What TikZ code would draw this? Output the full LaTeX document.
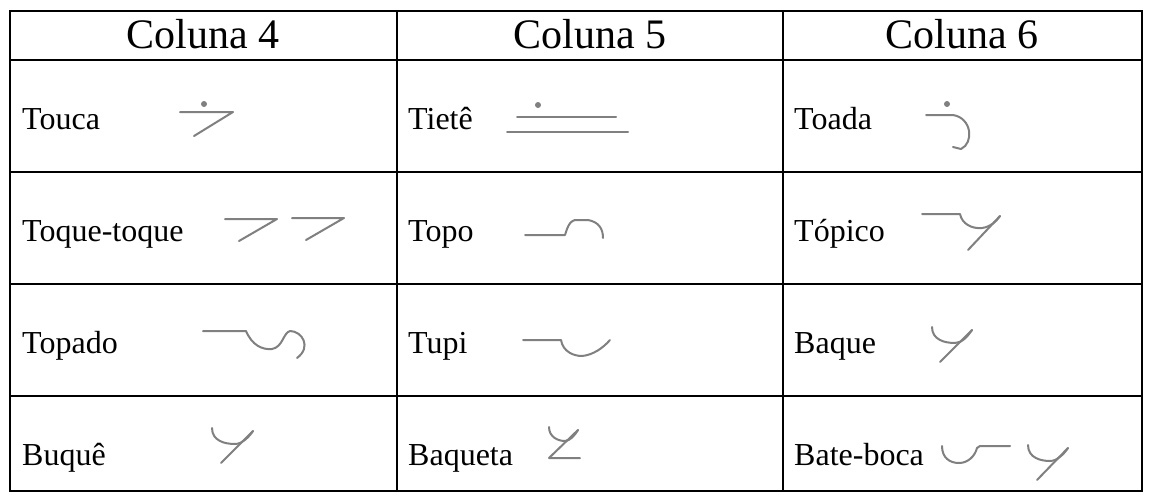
\documentclass[tikz,border=0pt]{standalone}
\usepackage{fontspec}
\setmainfont{Liberation Serif}
\begin{document}
\begin{tikzpicture}[x=1pt,y=-1pt,
  grid/.style={line width=1.8pt,black},
  sym/.style={line width=2pt,color=symgray,line cap=round,line join=round},
  symdot/.style={fill=symgray,draw=none},
  head/.style={font=\fontsize{42}{48}\selectfont,anchor=base,inner sep=0pt},
  cell/.style={font=\fontsize{32}{38}\selectfont,anchor=base west,inner sep=0pt}]
\definecolor{symgray}{HTML}{808080}
\useasboundingbox[fill=white] (0,0) rectangle (1151,501);
% table grid
\draw[grid] (10,11) rectangle (1142,491);
\foreach \xx in {397,783} \draw[grid] (\xx,11) -- (\xx,491);
\foreach \yy in {60,172,284,396} \draw[grid] (10,\yy) -- (1142,\yy);
% headers
\node[head] (h4) at (203,48) {Coluna 4};
\node[head] (h5) at (590,48) {Coluna 5};
\node[head] (h6) at (962,48) {Coluna 6};
% cells column 4
\node[cell] (touca) at (22,129) {Touca};
\node[cell] (toque) at (22,241) {Toque-toque};
\node[cell] (topado) at (22,353) {Topado};
\node[cell] (buque) at (22,465) {Buquê};
% cells column 5
\node[cell] (tiete) at (408,129) {Tietê};
\node[cell] (topo) at (408,241) {Topo};
\node[cell] (tupi) at (408,353) {Tupi};
\node[cell] (baqueta) at (408,465) {Baqueta};
% cells column 6
\node[cell] (toada) at (794,129) {Toada};
\node[cell] (topico) at (794,241) {Tópico};
\node[cell] (baque) at (794,353) {Baque};
\node[cell] (bateboca) at (794,465) {Bate-boca};
% --- symbols ---
% Touca
\fill[symdot] (204,104) circle (3);
\draw[sym] (180,112) -- (233,112) -- (194,136);
% Tiete
\fill[symdot] (538,105) circle (3);
\draw[sym] (517,117) -- (616,117);
\draw[sym] (507,132) -- (628,132);
% Toada
\fill[symdot] (947,104) circle (3);
\draw[sym] (926,115) -- (953,115) .. controls (972,118) and (974,143) .. (961,149) -- (953,147);
% Toque-toque
\draw[sym] (225,219) -- (277,219) -- (239,241);
\draw[sym] (292,218) -- (344,218) -- (306,240);
% Topo
\draw[sym] (525,235) -- (565,235) -- (567,229) .. controls (569,224) and (571,221) .. (575,220) -- (588,220) .. controls (599,222) and (603,229) .. (603,238);
% Topico
\draw[sym] (922,214) -- (960,214) .. controls (962,224) and (972,229) .. (982,228) .. controls (990,227) and (996,222) .. (1000,216);
\draw[sym] (968,250) -- (1000,216);
% Topado
\draw[sym] (203,331) -- (246,331) .. controls (252,345) and (262,350) .. (272,349) .. controls (283,347) and (283,333) .. (290,331) .. controls (302,331) and (312,347) .. (297,358);
% Tupi
\draw[sym] (523,340) -- (561,340) .. controls (563,352) and (574,356) .. (582,356) .. controls (593,355) and (603,348) .. (610,340);
% Baque
\draw[sym] (932,327) .. controls (932,340) and (945,343) .. (955,343) .. controls (962,343) and (968,336) .. (972,330);
\draw[sym] (940,362) -- (972,330);
% Buque
\draw[sym] (212,428) .. controls (212,441) and (225,444) .. (235,444) .. controls (242,444) and (249,437) .. (253,431);
\draw[sym] (221,463) -- (253,431);
% Baqueta
\draw[sym] (549,427) .. controls (549,437) and (558,441) .. (565,441) .. controls (570,441) and (575,435) .. (578,430);
\draw[sym] (578,430) -- (549,458) -- (580,458);
% Bate-boca
\draw[sym] (942,446) .. controls (942,458) and (950,463) .. (959,463) .. controls (968,463) and (975,456) .. (977,448) -- (980,446) -- (1010,446);
\draw[sym] (1028,445) .. controls (1028,458) and (1041,461) .. (1050,461) .. controls (1057,461) and (1064,454) .. (1068,448);
\draw[sym] (1037,480) -- (1068,448);
\end{tikzpicture}
\end{document}
